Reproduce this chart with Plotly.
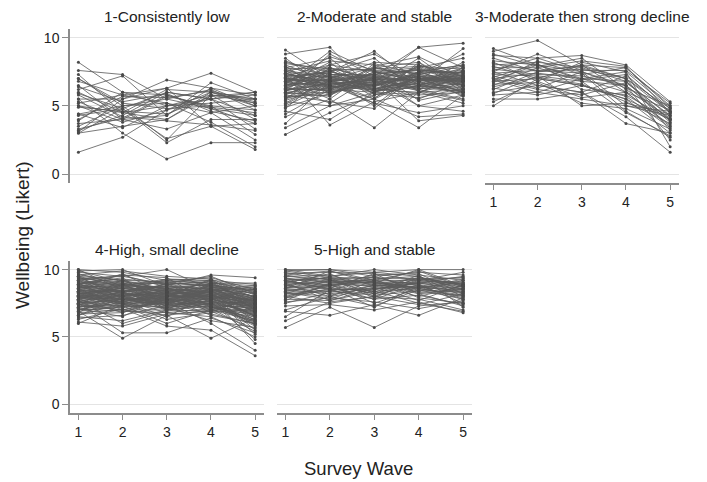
import plotly.graph_objects as go

WAVES = [1, 2, 3, 4, 5]
Y_TICKS = [0, 5, 10]
TITLES = ["1-Consistently low", "2-Moderate and stable", "3-Moderate then strong decline",
          "4-High, small decline", "5-High and stable"]
X_TITLE = "Survey Wave"
Y_TITLE = "Wellbeing (Likert)"

# Group 1: one row per respondent, values at waves 1..5
P1 = [
    [8.2, 6.0, 5.0, 5.5, 4.3], [7.6, 7.3, 5.5, 4.8, 3.7], [7.3, 4.5, 4.0, 6.0, 5.2],
    [7.0, 5.0, 2.5, 5.8, 4.0], [6.8, 5.8, 6.3, 7.4, 6.0], [6.5, 4.0, 5.7, 5.0, 2.9],
    [6.2, 7.2, 4.3, 6.7, 5.5], [5.9, 4.8, 6.0, 5.5, 3.3], [5.5, 5.5, 6.9, 6.3, 5.8],
    [5.3, 4.0, 3.3, 4.5, 5.0], [5.5, 3.0, 1.1, 2.3, 2.3], [5.2, 5.8, 5.2, 3.8, 2.0],
    [5.0, 4.5, 6.2, 6.0, 5.5], [5.0, 3.8, 4.7, 5.5, 6.0], [4.4, 5.0, 5.5, 6.2, 4.7],
    [4.3, 4.8, 2.6, 3.5, 3.7], [4.4, 3.4, 5.0, 5.8, 5.2], [3.9, 6.0, 5.8, 4.8, 4.3],
    [3.7, 4.0, 4.3, 6.3, 5.0], [3.5, 5.0, 5.2, 4.5, 2.5], [3.2, 4.3, 6.0, 5.5, 5.8],
    [3.0, 4.8, 2.3, 4.0, 4.0], [3.0, 3.5, 4.0, 5.8, 5.5], [3.1, 5.5, 6.3, 3.5, 1.8],
    [1.6, 2.7, 4.7, 6.0, 5.0], [7.0, 5.2, 4.8, 5.0, 4.7], [6.0, 4.5, 5.0, 5.2, 5.5],
    [4.0, 5.7, 5.6, 6.1, 5.3], [5.8, 4.2, 3.9, 3.6, 3.2], [3.3, 4.1, 5.8, 4.9, 4.5],
    [4.9, 4.6, 4.4, 5.7, 6.0], [6.4, 5.3, 5.9, 4.6, 3.9],
]

P2 = [
    [9.1, 7.0, 6.5, 7.2, 6.8], [8.8, 9.3, 6.0, 7.0, 7.5], [8.5, 6.2, 7.8, 8.2, 6.0],
    [8.2, 7.5, 9.0, 6.5, 7.0], [8.0, 6.8, 7.2, 9.3, 9.6], [7.8, 8.5, 6.0, 7.5, 8.0],
    [7.6, 5.8, 7.0, 6.2, 5.5], [7.5, 7.0, 8.2, 8.0, 7.2], [7.4, 6.5, 5.5, 7.0, 6.5],
    [7.2, 8.0, 7.5, 6.8, 7.8], [7.1, 6.0, 6.5, 8.5, 6.2], [7.0, 7.2, 6.8, 5.0, 5.8],
    [6.9, 5.5, 7.8, 7.3, 7.0], [6.8, 7.8, 6.2, 6.0, 6.8], [6.7, 6.5, 7.0, 7.8, 8.5],
    [6.6, 8.2, 5.8, 6.5, 7.2], [6.5, 6.8, 6.5, 7.2, 6.0], [6.4, 5.2, 7.2, 6.8, 7.5],
    [6.3, 7.5, 8.5, 6.0, 5.2], [6.2, 6.2, 6.0, 8.0, 7.0], [6.1, 7.0, 5.0, 7.5, 6.5],
    [6.0, 8.8, 7.2, 6.5, 8.2], [5.9, 6.0, 6.8, 5.5, 6.8], [5.8, 7.2, 6.2, 7.0, 7.2],
    [5.7, 5.8, 7.5, 6.8, 5.8], [5.6, 6.8, 5.5, 8.2, 6.5], [5.5, 7.8, 7.0, 6.2, 7.0],
    [5.4, 6.4, 6.5, 7.5, 8.0], [5.3, 5.0, 6.0, 5.8, 6.0], [5.2, 7.0, 7.8, 7.0, 6.8],
    [5.0, 6.5, 5.2, 4.5, 5.0], [4.8, 7.5, 6.8, 6.5, 7.5], [4.6, 4.0, 6.0, 7.2, 6.5],
    [4.4, 6.2, 7.2, 5.0, 4.6], [4.2, 5.5, 3.4, 6.0, 6.2], [3.7, 6.8, 6.2, 7.0, 7.0],
    [3.4, 5.0, 5.5, 4.2, 4.4], [2.9, 4.5, 5.8, 6.5, 6.0], [7.3, 3.6, 5.3, 6.0, 7.2],
    [6.6, 9.0, 7.5, 7.8, 6.8], [6.2, 8.0, 8.8, 7.0, 6.0], [7.0, 6.6, 5.2, 3.4, 5.8],
    [6.8, 7.3, 7.0, 3.9, 4.3], [7.7, 6.4, 6.7, 9.3, 7.8], [5.8, 5.3, 4.8, 7.4, 8.8],
    [6.5, 7.6, 6.3, 6.8, 9.2], [6.9, 6.9, 7.3, 7.6, 7.4], [6.3, 6.1, 6.6, 6.4, 6.6],
    [7.2, 7.4, 5.9, 5.6, 6.3], [6.0, 5.7, 8.1, 7.3, 7.9], [5.5, 6.6, 6.9, 6.1, 5.4],
    [8.3, 7.1, 6.4, 7.9, 6.9], [6.7, 8.6, 7.6, 5.4, 6.1], [7.4, 6.3, 7.9, 8.6, 7.1],
    [5.1, 6.9, 6.1, 6.7, 7.3], [6.4, 7.7, 5.6, 7.1, 5.7], [7.9, 5.9, 7.1, 6.3, 6.4],
    [6.1, 6.7, 6.3, 5.9, 7.6], [4.9, 5.9, 6.9, 7.7, 6.7], [7.5, 8.3, 8.0, 6.6, 5.9],
    [6.8, 6.9, 6.7, 7.0, 6.9], [7.0, 6.5, 7.1, 6.8, 7.3], [6.5, 7.2, 6.6, 7.3, 6.7],
    [7.3, 6.8, 7.3, 6.6, 7.1], [6.2, 6.6, 6.9, 7.1, 6.4], [7.6, 7.1, 6.4, 7.4, 7.6],
    [6.0, 6.3, 7.0, 6.9, 7.0], [7.1, 7.5, 6.8, 6.5, 6.2], [6.6, 6.1, 7.4, 7.6, 7.4],
    [7.8, 7.3, 7.2, 7.2, 6.6], [5.9, 6.8, 6.1, 6.4, 6.9], [6.9, 7.6, 7.7, 7.9, 7.7],
    [7.4, 6.7, 6.0, 6.7, 6.3], [6.4, 7.0, 6.5, 6.2, 7.8], [7.2, 6.2, 7.5, 7.0, 6.0],
    [6.1, 7.3, 7.3, 7.7, 7.2], [7.7, 7.8, 6.9, 6.9, 6.8], [6.7, 6.4, 6.2, 7.5, 6.5],
    [5.6, 6.0, 6.6, 6.3, 6.1], [8.1, 7.7, 7.6, 7.4, 7.5],
]

P3 = [
    [9.2, 8.0, 7.5, 6.5, 4.0], [9.0, 9.8, 8.0, 7.0, 4.5], [8.7, 8.5, 8.7, 8.0, 5.3],
    [8.5, 7.5, 8.0, 7.8, 5.0], [8.3, 8.0, 7.0, 6.0, 3.5], [8.2, 6.8, 8.2, 7.5, 4.8],
    [8.0, 8.2, 7.8, 6.8, 4.2], [7.9, 7.0, 6.5, 5.5, 3.0], [7.8, 7.8, 8.3, 7.9, 4.5],
    [7.7, 7.3, 7.2, 6.5, 3.8], [7.6, 8.5, 7.5, 5.0, 4.3], [7.5, 6.5, 6.0, 7.2, 4.6],
    [7.4, 7.6, 7.9, 7.0, 3.2], [7.3, 7.2, 6.8, 4.5, 2.8], [7.2, 6.3, 7.5, 6.3, 5.0],
    [7.1, 8.1, 6.2, 5.8, 4.0], [7.0, 7.4, 7.0, 7.5, 2.0], [6.9, 6.0, 5.5, 5.0, 4.6],
    [6.8, 7.0, 8.0, 6.0, 3.6], [6.7, 8.3, 7.3, 7.8, 4.9], [6.6, 6.7, 5.2, 4.8, 3.3],
    [6.5, 7.8, 6.8, 6.5, 2.5], [6.3, 5.8, 6.5, 5.5, 4.0], [6.2, 7.5, 7.7, 7.0, 4.8],
    [6.0, 6.5, 6.0, 3.7, 3.0], [5.9, 7.2, 5.0, 5.2, 4.4], [5.8, 6.0, 7.0, 6.8, 3.9],
    [5.5, 5.5, 6.0, 4.2, 1.6], [5.3, 6.8, 5.6, 6.0, 4.7], [5.0, 7.0, 6.5, 5.7, 3.4],
    [8.8, 7.9, 8.5, 6.2, 4.1], [7.5, 8.8, 7.6, 7.6, 5.2], [6.4, 7.1, 6.6, 5.3, 3.7],
    [7.0, 6.2, 5.8, 6.7, 4.3], [8.1, 7.6, 7.4, 4.6, 2.7], [6.9, 8.0, 6.9, 7.3, 4.5],
]

P4 = [
    [10.0, 9.8, 9.2, 9.4, 8.5], [10.0, 8.5, 8.0, 9.0, 7.5], [9.9, 10.0, 8.8, 9.6, 9.4],
    [9.8, 9.5, 10.0, 8.5, 8.8], [9.7, 8.8, 9.3, 9.2, 7.0], [9.6, 9.2, 8.5, 8.0, 6.5],
    [9.5, 7.8, 9.0, 9.5, 8.2], [9.4, 9.0, 8.2, 8.8, 7.8], [9.3, 8.2, 7.5, 9.0, 9.0],
    [9.2, 9.6, 9.4, 7.5, 6.0], [9.1, 8.6, 8.7, 8.6, 8.0], [9.0, 7.5, 8.0, 9.3, 7.2],
    [8.9, 9.4, 7.2, 8.2, 5.5], [8.8, 8.0, 8.6, 7.8, 8.6], [8.7, 8.8, 9.2, 8.9, 7.6],
    [8.6, 7.2, 8.3, 7.2, 6.8], [8.5, 9.2, 7.8, 8.5, 8.3], [8.4, 8.4, 8.9, 9.1, 7.0],
    [8.3, 7.0, 7.6, 8.0, 4.5], [8.2, 8.6, 8.2, 7.0, 7.8], [8.1, 9.0, 7.0, 8.6, 8.0],
    [8.0, 7.8, 8.5, 8.3, 6.2], [7.9, 8.3, 7.3, 7.6, 7.3], [7.8, 6.8, 8.0, 8.8, 8.5],
    [7.7, 8.9, 7.7, 7.4, 5.8], [7.6, 7.6, 6.5, 8.1, 7.7], [7.5, 8.1, 8.4, 6.8, 7.1],
    [7.4, 7.0, 7.9, 7.9, 6.6], [7.3, 9.3, 7.4, 8.4, 8.7], [7.2, 7.7, 6.8, 6.5, 5.0],
    [7.1, 6.5, 8.1, 7.7, 7.4], [7.0, 8.0, 7.1, 8.2, 6.9], [6.9, 7.3, 6.0, 7.0, 7.9],
    [6.8, 8.5, 7.6, 6.0, 4.0], [6.7, 6.8, 7.8, 7.8, 7.2], [6.6, 7.5, 6.3, 6.8, 8.1],
    [6.5, 6.2, 7.0, 7.3, 6.3], [6.3, 7.1, 5.8, 5.5, 3.6], [6.1, 5.8, 6.7, 6.9, 7.5],
    [6.0, 7.4, 7.2, 6.2, 5.7], [9.9, 9.1, 8.6, 7.7, 6.1], [9.5, 8.7, 9.1, 8.7, 8.4],
    [9.2, 7.9, 7.5, 8.4, 7.9], [8.9, 8.3, 8.8, 8.1, 7.4], [8.6, 9.7, 8.1, 9.2, 8.9],
    [8.4, 7.4, 7.8, 7.1, 6.7], [8.0, 8.9, 9.0, 8.8, 7.0], [7.7, 6.0, 6.9, 7.5, 7.6],
    [7.5, 5.3, 5.3, 6.4, 5.3], [7.2, 8.2, 8.0, 8.7, 8.2], [6.9, 4.9, 6.6, 4.9, 6.4],
    [6.6, 7.9, 7.4, 7.6, 4.8], [8.8, 7.7, 7.9, 6.6, 6.0], [9.0, 8.9, 8.4, 9.0, 8.6],
    [8.1, 8.0, 9.0, 7.2, 6.9], [7.8, 8.7, 8.3, 8.0, 7.8], [7.4, 7.8, 7.7, 8.6, 8.0],
    [8.3, 8.5, 7.1, 7.9, 7.3], [9.6, 9.9, 9.5, 9.3, 8.1], [7.0, 7.6, 8.2, 7.4, 7.1],
    [8.5, 7.4, 8.6, 8.4, 6.8], [7.9, 8.8, 8.0, 8.2, 7.7], [8.7, 8.1, 7.3, 8.9, 8.4],
    [7.3, 7.2, 7.6, 7.0, 6.5], [9.3, 9.5, 8.9, 8.5, 7.6], [8.2, 7.6, 8.4, 8.0, 5.2],
    [7.6, 8.4, 7.0, 7.8, 7.0], [9.4, 8.3, 9.3, 9.0, 8.8], [6.4, 6.6, 7.3, 7.2, 6.6],
    [8.9, 9.6, 8.7, 7.3, 7.2],
    [8.0, 8.2, 8.0, 8.3, 7.2], [8.5, 8.0, 8.3, 8.0, 7.5], [7.8, 7.9, 7.8, 7.6, 6.8],
    [8.2, 8.6, 8.1, 8.5, 7.9], [9.0, 8.4, 8.2, 8.4, 7.3], [7.5, 7.8, 7.4, 7.9, 6.4],
    [8.6, 8.9, 8.6, 8.3, 7.7], [7.2, 7.5, 7.6, 7.2, 6.1], [8.8, 8.6, 8.4, 8.7, 8.0],
    [7.9, 8.1, 7.9, 8.1, 7.0], [8.3, 7.7, 8.2, 7.7, 6.6], [7.6, 8.3, 7.7, 8.4, 7.5],
    [9.1, 9.0, 8.5, 8.6, 7.4], [7.4, 7.3, 7.2, 7.5, 5.9], [8.4, 8.8, 8.7, 8.9, 8.2],
    [8.1, 7.5, 7.9, 7.4, 6.3], [7.7, 8.0, 7.5, 8.2, 7.6], [8.9, 8.2, 8.0, 8.0, 6.9],
    [7.0, 7.8, 7.3, 7.7, 6.7], [8.7, 8.4, 8.8, 8.5, 7.8], [9.3, 9.1, 8.9, 9.1, 8.3],
    [7.3, 7.0, 7.0, 6.9, 5.6], [8.0, 8.7, 8.4, 8.1, 7.4], [7.6, 7.3, 7.7, 7.3, 6.2],
    [8.5, 8.3, 7.6, 8.6, 7.1], [7.1, 6.9, 6.8, 7.1, 5.4], [9.0, 9.3, 9.0, 8.8, 8.5],
    [7.9, 7.6, 8.1, 7.8, 7.2], [8.2, 8.4, 8.6, 8.2, 6.5], [7.4, 7.9, 7.0, 7.5, 6.9],
    [8.6, 8.0, 8.3, 7.9, 7.7], [7.8, 8.5, 7.8, 8.4, 7.0], [9.5, 9.2, 9.1, 9.2, 7.9],
    [7.0, 7.2, 7.5, 6.7, 6.0], [8.4, 7.8, 8.0, 8.0, 7.3], [6.8, 7.0, 6.6, 7.0, 6.2],
    [9.2, 8.8, 8.6, 8.9, 8.0], [8.0, 7.4, 7.7, 7.6, 5.9], [7.5, 8.2, 8.2, 8.3, 7.8],
    [8.8, 9.0, 8.4, 8.5, 7.5],
]

P5 = [
    [10.0, 10.0, 9.8, 10.0, 10.0], [10.0, 9.5, 10.0, 9.6, 9.2], [9.9, 10.0, 9.5, 9.8, 9.6],
    [9.8, 9.2, 9.0, 10.0, 8.8], [9.7, 9.8, 9.7, 9.2, 9.4], [9.6, 9.0, 9.3, 9.5, 8.5],
    [9.5, 9.6, 8.8, 9.0, 9.0], [9.4, 8.8, 9.6, 9.7, 8.2], [9.3, 9.3, 9.1, 8.6, 9.3],
    [9.2, 8.5, 8.5, 9.3, 8.7], [9.1, 9.4, 9.4, 8.8, 7.8], [9.0, 9.7, 8.2, 9.1, 9.1],
    [8.9, 8.0, 9.2, 8.4, 8.4], [8.8, 9.1, 8.7, 9.4, 8.9], [8.7, 8.7, 7.8, 8.9, 7.5],
    [8.6, 9.9, 9.0, 8.2, 8.6], [8.5, 8.2, 8.6, 9.0, 9.5], [8.4, 8.9, 7.5, 8.6, 8.0],
    [8.3, 7.8, 8.9, 8.0, 8.8], [8.2, 9.2, 8.3, 9.6, 7.2], [8.1, 8.4, 9.5, 8.5, 8.3],
    [8.0, 7.5, 8.0, 7.8, 7.0], [7.9, 8.6, 7.2, 8.8, 8.6], [7.8, 7.7, 8.4, 7.5, 6.9],
    [7.7, 9.0, 9.1, 8.3, 8.1], [7.6, 7.9, 7.6, 7.1, 7.7], [7.5, 8.3, 8.8, 8.7, 9.0],
    [7.3, 7.4, 7.0, 7.6, 6.8], [7.0, 8.0, 8.5, 9.0, 8.5], [6.9, 6.6, 7.4, 6.6, 7.9],
    [6.5, 8.5, 7.8, 8.1, 7.4], [6.2, 7.6, 8.0, 7.4, 8.2], [5.7, 7.2, 5.7, 7.3, 7.6],
    [9.9, 9.4, 8.0, 9.2, 9.8], [9.4, 8.1, 8.7, 7.7, 8.9], [8.8, 9.5, 9.8, 9.5, 8.0],
    [8.4, 8.4, 8.1, 8.4, 9.2], [8.0, 8.8, 9.3, 7.9, 7.5], [9.6, 9.9, 9.2, 9.9, 8.7],
    [9.0, 7.7, 8.6, 8.7, 8.4], [8.6, 9.3, 7.9, 9.3, 9.4], [9.2, 8.6, 9.7, 8.2, 7.3],
    [7.9, 8.9, 8.2, 9.4, 8.8], [8.3, 8.0, 7.3, 8.5, 7.8],
    [9.0, 9.0, 8.9, 9.1, 8.7], [8.7, 8.9, 8.8, 8.9, 8.3], [9.3, 9.1, 9.2, 9.2, 8.9],
    [8.5, 8.6, 8.4, 8.6, 8.1], [8.9, 9.2, 9.0, 8.7, 8.5], [9.1, 8.8, 9.1, 9.0, 8.6],
    [8.2, 8.5, 8.6, 8.8, 8.2], [9.5, 9.3, 9.4, 9.3, 9.0], [8.6, 8.8, 8.2, 8.7, 7.9],
    [9.2, 9.4, 8.9, 9.4, 8.8],
]

GROUPS = [P1, P2, P3, P4, P5]

# The page body adds an 8 px margin; the figure is sized and placed to compensate.
OFF = 8
W, H = 707 - OFF, 482 - OFF
FONT = "Liberation Sans, Arial, sans-serif"
LINE_COL = "rgba(92,92,92,0.82)"
MARK_COL = "#4a4a4a"
AXIS_COL = "#8c8c8c"
GRID_COL = "#e4e4e4"

# panel pixel boxes in the reference picture: (left, right) and (top, bottom)
COLS = [(70, 264), (277, 472), (485, 679)]
ROWS = [(29, 183), (261, 413)]
PANEL_POS = [(0, 0), (0, 1), (0, 2), (1, 0), (1, 1)]
SHOW_X = [False, False, True, True, True]
SHOW_Y = [True, False, False, True, False]


def px(x):
    return (x - OFF) / W


def py(y):
    return 1 - (y - OFF) / H


fig = go.Figure()
for i, rows in enumerate(GROUPS):
    xs, ys = [], []
    for r in rows:
        xs += WAVES + [None]
        ys += list(r) + [None]
    suffix = "" if i == 0 else str(i + 1)
    fig.add_trace(go.Scatter(
        x=xs, y=ys, mode="lines+markers",
        line=dict(color=LINE_COL, width=1),
        marker=dict(color=MARK_COL, size=3, symbol="circle"),
        xaxis="x" + suffix, yaxis="y" + suffix,
        showlegend=False, hoverinfo="skip", connectgaps=False,
    ))

layout = dict(
    width=W, height=H, margin=dict(l=0, r=0, t=0, b=0),
    paper_bgcolor="white", plot_bgcolor="white",
    font=dict(family=FONT, color="#222", size=13),
    showlegend=False,
)
annotations = []
for i, (ri, ci) in enumerate(PANEL_POS):
    l, r = COLS[ci]
    t, b = ROWS[ri]
    suffix = "" if i == 0 else str(i + 1)
    layout["xaxis" + suffix] = dict(
        domain=[px(l), px(r)], anchor="y" + suffix,
        range=[0.81, 5.2], tickvals=WAVES, ticktext=[str(v) for v in WAVES],
        showgrid=False, zeroline=False,
        showline=SHOW_X[i], linecolor=AXIS_COL, linewidth=1.5,
        ticks="outside" if SHOW_X[i] else "", ticklen=5, tickwidth=1.2, tickcolor=AXIS_COL,
        showticklabels=SHOW_X[i], tickfont=dict(size=14, color="#222"),
    )
    layout["yaxis" + suffix] = dict(
        domain=[py(b), py(t)], anchor="x" + suffix,
        range=[-0.66, 10.64], tickvals=Y_TICKS,
        showgrid=True, gridcolor=GRID_COL, gridwidth=1, zeroline=False,
        showline=SHOW_Y[i], linecolor=AXIS_COL, linewidth=1.5,
        ticks="outside" if SHOW_Y[i] else "", ticklen=6, tickwidth=1.2, tickcolor=AXIS_COL,
        showticklabels=SHOW_Y[i], tickfont=dict(size=14, color="#222"),
    )
    annotations.append(dict(
        text=TITLES[i], x=px((l + r) / 2), y=py(t - 12),
        xref="paper", yref="paper", showarrow=False,
        xanchor="center", yanchor="middle",
        font=dict(size=15.5, color="#222", family=FONT),
    ))

annotations.append(dict(
    text=X_TITLE, x=px(358), y=py(468), xref="paper", yref="paper",
    showarrow=False, xanchor="center", yanchor="middle",
    font=dict(size=18.5, color="#222", family=FONT),
))
annotations.append(dict(
    text=Y_TITLE, x=px(22), y=py(236), xref="paper", yref="paper",
    showarrow=False, xanchor="center", yanchor="middle", textangle=-90,
    font=dict(size=19, color="#222", family=FONT),
))
layout["annotations"] = annotations
fig.update_layout(**layout)

fig.write_html("out.html")
